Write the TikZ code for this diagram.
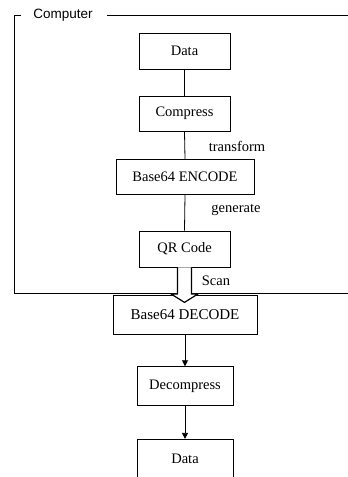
\documentclass[tikz,border=0pt]{standalone}
\usepackage{fontspec}
\setmainfont{Liberation Serif}
\newfontfamily\arialfont{Liberation Sans}
\usetikzlibrary{arrows.meta}
\begin{document}
\begin{tikzpicture}[x=1pt,y=-1pt,
  box/.style={draw, line width=0.8pt, inner sep=0pt, font=\fontsize{14.5}{16}\selectfont},
  lbl/.style={inner sep=0pt, font=\fontsize{14.5}{16}\selectfont},
  conn/.style={line width=0.8pt},
  arr/.style={line width=0.8pt, -{Triangle[length=6pt,width=6pt]}}]
\useasboundingbox (0,0) rectangle (348,477);
\clip (0,0) rectangle (348,477);
% frame
\node[inner sep=0pt, font=\arialfont\fontsize{13.5}{15}\selectfont] (comp) at (63,15) {Computer};
\draw[line width=0.8pt] (21,15) -- (14,15) -- (14,293) -- (360,293);
\draw[line width=0.8pt] (107,15) -- (360,15);
% boxes
\node[box, minimum width=91pt, minimum height=36pt] (data) at (184.5,51) {Data};
\node[box, minimum width=91pt, minimum height=35pt] (comp2) at (184.5,113.5) {Compress};
\node[box, minimum width=138pt, minimum height=35pt] (enc) at (185,176.8) {Base64 ENCODE};
\node[box, minimum width=91pt, minimum height=36pt] (qr) at (184.5,249) {QR Code};
\node[box, minimum width=144pt, minimum height=38.6pt, font=\fontsize{15}{17}\selectfont] (dec) at (185,315) {Base64 DECODE};
\node[box, minimum width=96pt, minimum height=38.6pt] (decomp) at (185,386) {Decompress};
\node[box, minimum width=96pt, minimum height=38.6pt] (data2) at (185,458.6) {Data};
% connectors
\draw[conn] (data.south) -- (comp2.north);
\draw[conn] (comp2.south) -- (enc.north);
\draw[conn] (enc.south) -- (qr.north);
\draw[arr] (dec.south) -- (decomp.north);
\draw[arr] (decomp.south) -- (data2.north);
% labels
\node[lbl] (ltr) at (237,146) {transform};
\node[lbl] (lgen) at (236,210) {generate};
\node[lbl] (lscan) at (216,281) {Scan};
% hollow arrow
\coordinate (qrb) at (qr.south);
\draw[line width=1.2pt, fill=white, line join=miter]
  ([xshift=-7pt]qrb) -- ++(0,26.5) -- ++(-6.5,0) -- ++(13.5,8.5) -- ++(13.5,-8.5) -- ++(-6.5,0) -- ([xshift=7pt]qrb);
\end{tikzpicture}
\end{document}
